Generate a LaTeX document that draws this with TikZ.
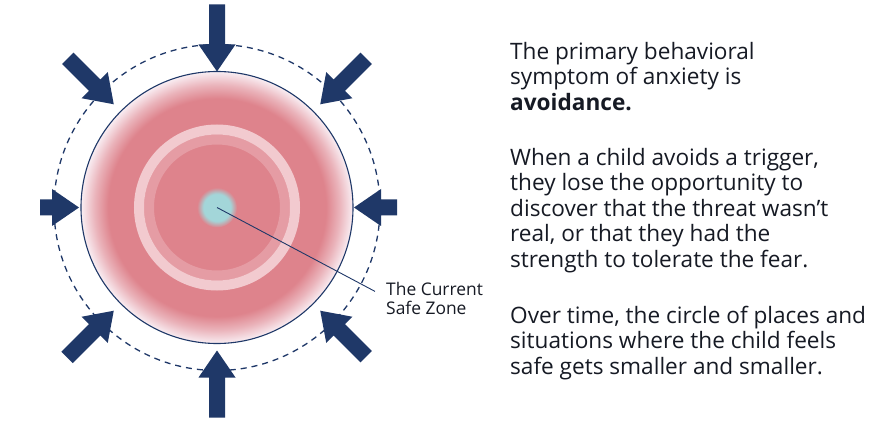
\documentclass[tikz,border=0pt]{standalone}
\usepackage{fontspec}
\setmainfont{Open Sans}
\usetikzlibrary{positioning, calc}
\definecolor{ArrowNavy}{RGB}{31, 56, 104}
\definecolor{ZonePink}{RGB}{222, 131, 140}
\definecolor{ZoneEdge}{RGB}{249, 238, 243}
\definecolor{RingPink}{RGB}{242, 202, 207}
\definecolor{RingInner}{RGB}{229, 156, 164}
\definecolor{SafeCyan}{RGB}{163, 214, 217}
\definecolor{TextInk}{RGB}{22, 26, 36}

\pgfdeclareradialshading{zoneglow}{\pgfpoint{0bp}{0bp}}{%
  color(0bp)=(ZonePink); color(20bp)=(ZonePink);
  color(22.5bp)=(ZonePink!55!ZoneEdge); color(25bp)=(ZoneEdge);
  color(50bp)=(ZoneEdge)}
\pgfdeclareradialshading{safeglow}{\pgfpoint{0bp}{0bp}}{%
  color(0bp)=(SafeCyan); color(17bp)=(SafeCyan);
  color(25bp)=(ZonePink); color(50bp)=(ZonePink)}

\begin{document}
\begin{tikzpicture}[x=1pt, y=1pt,
    bodytext/.style={anchor=north west, align=left, inner sep=0pt,
      text=TextInk, font=\fontsize{22.6}{25.5}\selectfont},
    zonelabel/.style={anchor=north west, align=left, inner sep=0pt,
      text=TextInk, font=\fontsize{17.4}{19}\selectfont}]
  \useasboundingbox (0,0) rectangle (884,421);
  \fill[white] (0,0) rectangle (884,421);
  \coordinate (c) at (217,213.5);

  % Safe zone disc, fading out at the rim
  \shade[shading=zoneglow] (c) circle (136);
  % Pale rings inside the zone
  \draw[RingInner, line width=10] (c) circle (68);
  \draw[RingPink, line width=10] (c) circle (78);
  % Zone border and outer dashed limit
  \draw[ArrowNavy, line width=1.1] (c) circle (136);
  \draw[ArrowNavy, line width=1.3, dash pattern=on 6pt off 5pt] (c) circle (163);

  % Pressure arrows: angle / tip radius / tail radius
  \foreach \a/\r/\R in {90/136/203, 45/146/211, 0/137/180, -45/146/211,
                        -90/143/210, -135/146/212, 180/138/177, 135/146/211} {
    \begin{scope}[shift={(c)}, rotate=\a]
      \fill[ArrowNavy] (\R,8) -- (\r+27,8) -- (\r+27,18.5) -- (\r,0)
        -- (\r+27,-18.5) -- (\r+27,-8) -- (\R,-8) -- cycle;
    \end{scope}
  }

  % Current safe zone
  \node[circle, minimum size=40, inner sep=0pt, shade, shading=safeglow] (safe) at (c) {};
  \node[zonelabel] (safelabel) at (386,139) {The Current\\Safe Zone};
  \draw[ArrowNavy, line width=0.9] (safe.center) -- ([xshift=-11pt, yshift=7pt]safelabel.west);

  % Explanation text
  \node[bodytext] (first) at (510,379) {The primary behavioral\\symptom of anxiety is\\\textbf{avoidance.}};
  \node[bodytext] (second) at (510,273) {When a child avoids a trigger,\\they lose the opportunity to\\discover that the threat wasn’t\\real, or that they had the\\strength to tolerate the fear.};
  \node[bodytext] (third) at (510,115) {Over time, the circle of places and\\situations where the child feels\\safe gets smaller and smaller.};
\end{tikzpicture}
\end{document}
